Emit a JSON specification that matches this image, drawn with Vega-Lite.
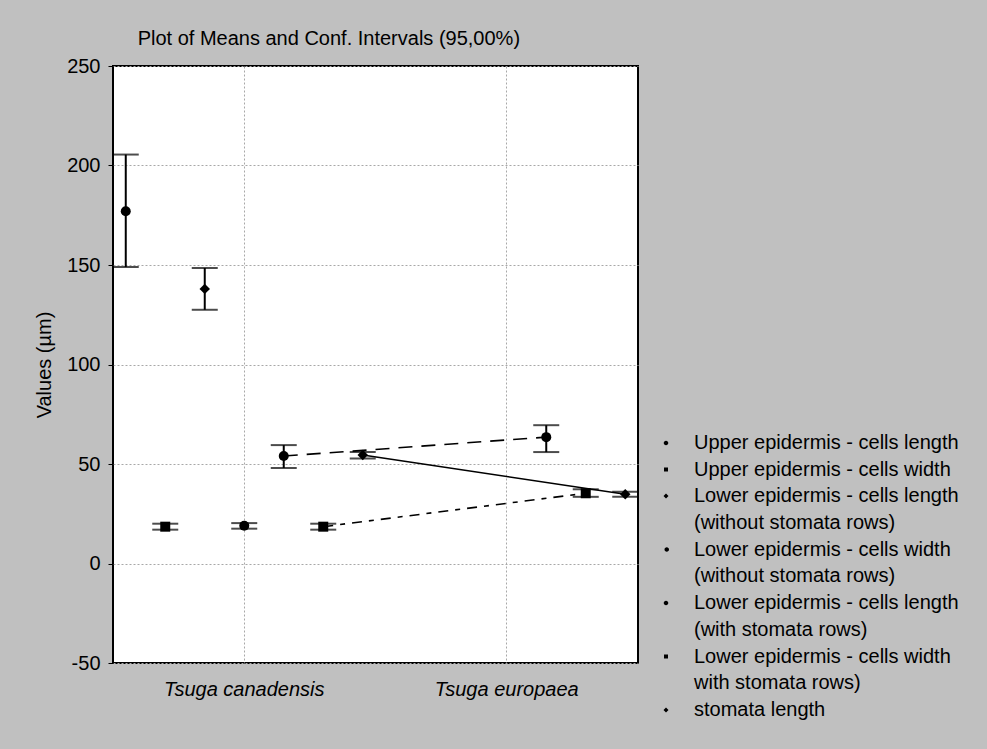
{
  "$schema": "https://vega.github.io/schema/vega-lite/v6.json",
  "width": 525,
  "height": 597,
  "autosize": {"type": "none"},
  "padding": {"left": 113, "top": 66, "right": 349, "bottom": 86},
  "background": "#c0c0c0",
  "config": {
    "font": "Liberation Sans",
    "view": {"stroke": "black", "strokeWidth": 2, "fill": "white"},
    "style": {"guide-label": {"lineHeight": 26.5}},
    "locale": {"number": {"decimal": ".", "thousands": ",", "grouping": [3], "currency": ["$", ""], "minus": "-"}}
  },
  "title": {
    "text": "Plot of Means and Conf. Intervals (95,00%)",
    "anchor": "start",
    "dx": 103,
    "offset": 7,
    "fontSize": 20,
    "fontWeight": "normal",
    "color": "black",
    "font": "Liberation Sans"
  },
  "data": {
    "values": [
      {"species": "Tsuga canadensis", "series": "Upper epidermis - cells length", "mean": 177, "lo": 149, "hi": 205.5},
      {"species": "Tsuga canadensis", "series": "Upper epidermis - cells width", "mean": 18.5, "lo": 17, "hi": 20},
      {"species": "Tsuga canadensis", "series": "Lower epidermis - cells length\n(without stomata rows)", "mean": 138, "lo": 127.5, "hi": 148.5},
      {"species": "Tsuga canadensis", "series": "Lower epidermis - cells width\n(without stomata rows)", "mean": 19, "lo": 17.5, "hi": 20.3},
      {"species": "Tsuga canadensis", "series": "Lower epidermis - cells length\n(with stomata rows)", "mean": 54, "lo": 48, "hi": 59.5},
      {"species": "Tsuga canadensis", "series": "Lower epidermis - cells width\nwith stomata rows)", "mean": 18.5, "lo": 17, "hi": 20},
      {"species": "Tsuga canadensis", "series": "stomata length", "mean": 54.5, "lo": 52.8, "hi": 56},
      {"species": "Tsuga europaea", "series": "Lower epidermis - cells length\n(with stomata rows)", "mean": 63.5, "lo": 56, "hi": 69.5},
      {"species": "Tsuga europaea", "series": "Lower epidermis - cells width\nwith stomata rows)", "mean": 35.3, "lo": 33.5, "hi": 37.3},
      {"species": "Tsuga europaea", "series": "stomata length", "mean": 34.8, "lo": 33.5, "hi": 36}
    ]
  },
  "encoding": {
    "x": {
      "field": "species",
      "type": "nominal",
      "scale": {"type": "band", "domain": ["Tsuga canadensis", "Tsuga europaea"], "paddingInner": 0, "paddingOuter": 0},
      "axis": {
        "title": null,
        "labelAngle": 0,
        "labelFontSize": 20,
        "labelFontStyle": "italic",
        "labelColor": "black",
        "labelPadding": 16,
        "ticks": false,
        "domain": false,
        "grid": true,
        "bandPosition": 0.5,
        "gridColor": "#a8a8a8",
        "gridDash": [2, 2],
        "gridWidth": 1
      }
    },
    "xOffset": {
      "field": "series",
      "type": "nominal",
      "scale": {
        "type": "point",
        "padding": 0.323,
        "domain": [
          "Upper epidermis - cells length",
          "Upper epidermis - cells width",
          "Lower epidermis - cells length\n(without stomata rows)",
          "Lower epidermis - cells width\n(without stomata rows)",
          "Lower epidermis - cells length\n(with stomata rows)",
          "Lower epidermis - cells width\nwith stomata rows)",
          "stomata length"
        ]
      }
    }
  },
  "layer": [
    {
      "mark": {"type": "rule", "color": "black", "strokeWidth": 2},
      "encoding": {
        "y": {
          "field": "lo",
          "type": "quantitative",
          "scale": {"domain": [-50, 250], "nice": false, "zero": false},
          "axis": {
            "title": "Values (µm)",
            "titleFontSize": 20,
            "titleFontWeight": "normal",
            "titleColor": "black",
            "titlePadding": 12,
            "values": [-50, 0, 50, 100, 150, 200, 250],
            "labelFontSize": 20,
            "labelColor": "black",
            "labelPadding": 8,
            "tickSize": 5,
            "tickColor": "black",
            "domain": false,
            "grid": true,
            "gridColor": "#a8a8a8",
            "gridDash": [2, 2],
            "gridWidth": 1
          }
        },
        "y2": {"field": "hi"}
      }
    },
    {
      "mark": {"type": "tick", "color": "black", "size": 26, "thickness": 2},
      "encoding": {"y": {"field": "lo", "type": "quantitative"}}
    },
    {
      "mark": {"type": "tick", "color": "black", "size": 26, "thickness": 2},
      "encoding": {"y": {"field": "hi", "type": "quantitative"}}
    },
    {
      "transform": [{"filter": {"field": "series", "equal": "Lower epidermis - cells length\n(with stomata rows)"}}],
      "mark": {"type": "line", "color": "black", "strokeWidth": 1.6, "strokeDash": [14, 9]},
      "encoding": {"y": {"field": "mean", "type": "quantitative"}}
    },
    {
      "transform": [{"filter": {"field": "series", "equal": "Lower epidermis - cells width\nwith stomata rows)"}}],
      "mark": {"type": "line", "color": "black", "strokeWidth": 1.6, "strokeDash": [10, 7, 5, 7]},
      "encoding": {"y": {"field": "mean", "type": "quantitative"}}
    },
    {
      "transform": [{"filter": {"field": "series", "equal": "stomata length"}}],
      "mark": {"type": "line", "color": "black", "strokeWidth": 1.6},
      "encoding": {"y": {"field": "mean", "type": "quantitative"}}
    },
    {
      "transform": [{"filter": {"field": "series", "oneOf": ["Upper epidermis - cells length", "Lower epidermis - cells width\n(without stomata rows)", "Lower epidermis - cells length\n(with stomata rows)"]}}],
      "mark": {"type": "point", "shape": "circle", "filled": true, "color": "black", "size": 100, "opacity": 1},
      "encoding": {"y": {"field": "mean", "type": "quantitative"}}
    },
    {
      "transform": [{"filter": {"field": "series", "oneOf": ["Upper epidermis - cells width", "Lower epidermis - cells width\nwith stomata rows)"]}}],
      "mark": {"type": "point", "shape": "square", "filled": true, "color": "black", "size": 100, "opacity": 1},
      "encoding": {"y": {"field": "mean", "type": "quantitative"}}
    },
    {
      "transform": [{"filter": {"field": "series", "oneOf": ["Lower epidermis - cells length\n(without stomata rows)", "stomata length"]}}],
      "mark": {"type": "point", "shape": "diamond", "filled": true, "color": "black", "size": 110, "opacity": 1},
      "encoding": {"y": {"field": "mean", "type": "quantitative"}}
    },
    {
      "transform": [{"filter": "datum.mean > 10000"}],
      "mark": {"type": "point", "filled": true, "color": "black", "opacity": 1},
      "encoding": {
        "y": {"field": "mean", "type": "quantitative"},
        "shape": {
          "field": "series",
          "type": "nominal",
          "scale": {
            "domain": [
              "Upper epidermis - cells length",
              "Upper epidermis - cells width",
              "Lower epidermis - cells length\n(without stomata rows)",
              "Lower epidermis - cells width\n(without stomata rows)",
              "Lower epidermis - cells length\n(with stomata rows)",
              "Lower epidermis - cells width\nwith stomata rows)",
              "stomata length"
            ],
            "range": [
              "M-1.75,-0.9H1.75M-1.75,0.9H1.75M0,-0.9V0.9M-1.75,0H1.75M-0.45,0A0.45,0.45 0 1,0 0.45,0A0.45,0.45 0 1,0 -0.45,0Z",
              "M-1.75,-0.9H1.75M-1.75,0.9H1.75M0,-0.9V0.9M-1.55,0H-1.05M1.05,0H1.55M-0.4,-0.42H0.4V0.42H-0.4Z",
              "M-1.75,-0.9H1.75M-1.75,0.9H1.75M0,-0.9V0.9M-1.3,0H-1.1M0.8,0H1M1.2,0H1.4M1.6,0H1.75M0,-0.5L0.5,0L0,0.5L-0.5,0Z",
              "M-1.75,-0.9H1.75M-1.75,0.9H1.75M0,-0.9V0.9M-1.75,0H0M-0.3,0A0.45,0.45 0 1,0 0.6,0A0.45,0.45 0 1,0 -0.3,0Z",
              "M-1.75,-0.9H1.75M-1.75,0.9H1.75M0,-0.9V0.9M-1.75,0H0M-0.45,0A0.45,0.45 0 1,0 0.45,0A0.45,0.45 0 1,0 -0.45,0Z",
              "M-1.75,-0.9H1.75M-1.75,0.9H1.75M0,-0.9V0.9M-1.75,0H0M0.8,0H1.2M-0.4,-0.42H0.4V0.42H-0.4Z",
              "M-1.75,-0.9H1.75M-1.75,0.9H1.75M0,-0.9V0.9M-1.75,0H1.75M0,-0.5L0.5,0L0,0.5L-0.5,0Z"
            ]
          },
          "legend": {
            "orient": "none",
            "legendX": 543,
            "legendY": 367,
            "title": null,
            "padding": 0,
            "symbolSize": 100,
            "symbolStrokeWidth": 2,
            "symbolFillColor": "black",
            "symbolStrokeColor": "black",
            "symbolOpacity": 1,
            "labelFont": "Liberation Sans",
            "labelFontSize": 20,
            "labelColor": "black",
            "labelLimit": 400,
            "labelOffset": 18,
            "rowPadding": 6.5,
            "labelExpr": "split(datum.label, '\\n')",
            "encode": {
              "symbols": {
                "stroke": {"value": "black"},
                "strokeWidth": {"value": 2},
                "fill": {"value": "black"},
                "opacity": {"value": 1}
              }
            }
          }
        }
      }
    }
  ]
}
